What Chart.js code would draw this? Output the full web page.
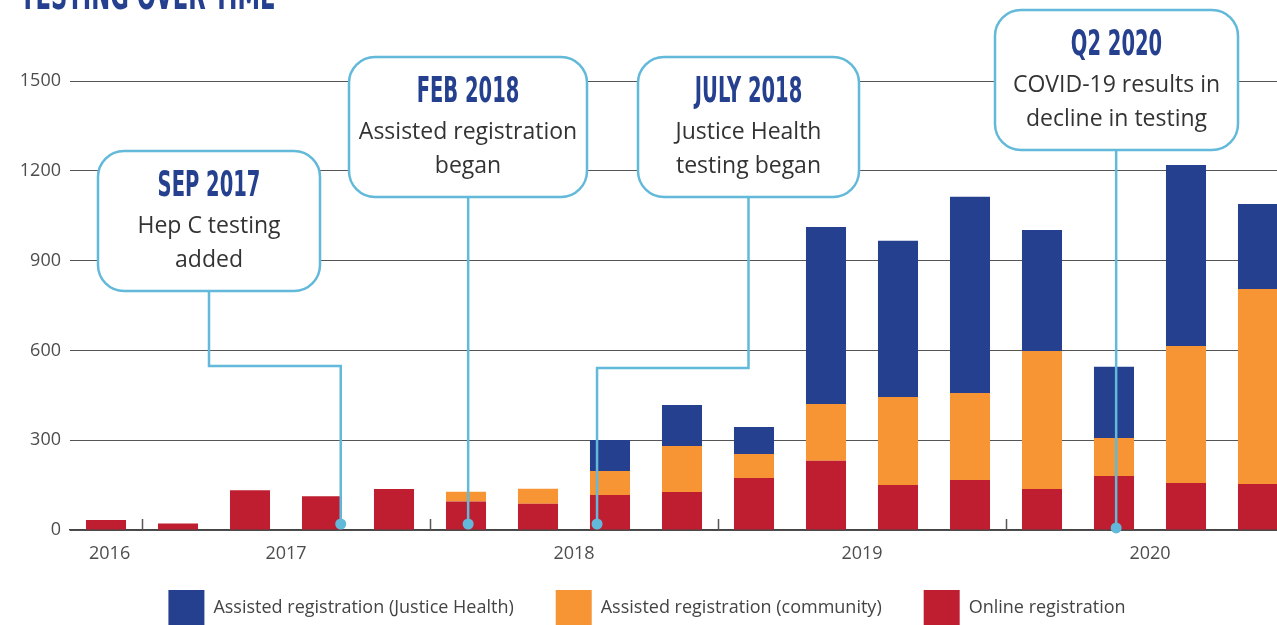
<!DOCTYPE html>
<html>
<head>
<meta charset="utf-8">
<script src="https://cdn.jsdelivr.net/npm/chart.js@4/dist/chart.umd.min.js"></script>
<style>
  html, body { margin: 0; padding: 0; background: #fff; overflow: hidden; }
  #testing { display: block; }
</style>
</head>
<body>
<canvas id="testing" width="1300" height="625"></canvas>
<script>
// Quarterly tests by registration type
const quarters = ['Q4 2016', 'Q1 2017', 'Q2 2017', 'Q3 2017', 'Q4 2017', 'Q1 2018', 'Q2 2018', 'Q3 2018', 'Q4 2018',
  'Q1 2019', 'Q2 2019', 'Q3 2019', 'Q4 2019', 'Q1 2020', 'Q2 2020', 'Q3 2020', 'Q4 2020'];
const online = [33, 22, 133, 113, 137, 95, 88, 117, 127, 174, 231, 150, 167, 137, 180, 157, 154];
const community = [0, 0, 0, 0, 0, 33, 50, 80, 154, 80, 190, 294, 291, 461, 127, 458, 651];
const justice = [0, 0, 0, 0, 0, 0, 0, 104, 137, 90, 591, 522, 655, 404, 238, 604, 284];

const yearLabels = ['2016', '2017', '2018', '2019', '2020'];
const yearCentres = [0.05, 2.5, 6.5, 10.5, 14.5];
const yearBreaks = [0.5, 4.5, 8.5, 12.5];

// Callouts
const noteHeads = ['SEP 2017', 'FEB 2018', 'JULY 2018', 'Q2 2020'];
const noteLines = [['Hep C testing', 'added'], ['Assisted registration', 'began'], ['Justice Health', 'testing began'], ['COVID-19 results in', 'decline in testing']];
const notePoints = [3.26, 5.03, 6.82, 14.03];
const noteBoxes = [
  { x: 98, y: 151, w: 222, elbow: 366 },
  { x: 349, y: 57, w: 238 },
  { x: 638, y: 57, w: 221, elbow: 368 },
  { x: 995, y: 10, w: 243 }
];

const NAVY = '#25408f', ORANGE = '#f79433', RED = '#be1e2f', BLUE = '#62b9da';
const FONT = '"Open Sans", sans-serif';

function condensed(ctx, text, x, y, size, squeeze, align) {
  ctx.save();
  ctx.font = 'bold ' + size + 'px "Liberation Sans Narrow", "DejaVu Sans Condensed", sans-serif';
  ctx.textAlign = align;
  ctx.translate(x, y);
  ctx.scale(squeeze, 1);
  ctx.fillText(text, 0, 0);
  ctx.restore();
}

const extras = {
  id: 'extras',
  beforeDraw(chart) {
    const ctx = chart.ctx;
    ctx.save();
    ctx.fillStyle = NAVY;
    ctx.textBaseline = 'alphabetic';
    condensed(ctx, 'TESTING OVER TIME', 20, 9, 40, 0.63, 'left');
    ctx.restore();
  },
  afterDatasetsDraw(chart) {
    const ctx = chart.ctx, xs = chart.scales.x, ys = chart.scales.y;
    ctx.save();
    // year labels and separators
    ctx.fillStyle = '#4d4d4d';
    ctx.font = '18px ' + FONT;
    ctx.textAlign = 'center';
    ctx.textBaseline = 'middle';
    yearLabels.forEach((t, i) => ctx.fillText(t, xs.getPixelForValue(yearCentres[i]), ys.bottom + 24));
    ctx.strokeStyle = '#555';
    ctx.lineWidth = 1.5;
    yearBreaks.forEach(b => {
      const px = Math.round(xs.getPixelForValue(b)) + 0.5;
      ctx.beginPath();
      ctx.moveTo(px, ys.bottom - 11);
      ctx.lineTo(px, ys.bottom);
      ctx.stroke();
    });
    // callouts
    noteBoxes.forEach((b, i) => {
      const px = xs.getPixelForValue(notePoints[i]);
      const py = ys.getPixelForValue(i === 3 ? 7 : 20);
      const cx = b.x + b.w / 2, h = 140;
      ctx.strokeStyle = BLUE;
      ctx.lineWidth = 2.5;
      ctx.beginPath();
      if (b.elbow) {
        ctx.moveTo(cx, b.y + h);
        ctx.lineTo(cx, b.elbow);
        ctx.lineTo(px, b.elbow);
      } else {
        ctx.moveTo(px, b.y + h);
      }
      ctx.lineTo(px, py);
      ctx.stroke();
      ctx.fillStyle = BLUE;
      ctx.beginPath();
      ctx.arc(px, py, 5.5, 0, Math.PI * 2);
      ctx.fill();

      ctx.fillStyle = '#fff';
      ctx.beginPath();
      ctx.roundRect(b.x, b.y, b.w, h, 26);
      ctx.fill();
      ctx.stroke();

      ctx.textBaseline = 'middle';
      ctx.fillStyle = NAVY;
      condensed(ctx, noteHeads[i], cx, b.y + 36, 35, 0.62, 'center');
      ctx.fillStyle = '#333';
      ctx.font = '23px ' + FONT;
      ctx.textAlign = 'center';
      noteLines[i].forEach((t, j) => ctx.fillText(t, cx, b.y + 75 + j * 34));
    });
    ctx.restore();
  }
};

new Chart(document.getElementById('testing'), {
  type: 'bar',
  data: {
    labels: quarters,
    datasets: [
      { label: 'Online registration', data: online, backgroundColor: RED },
      { label: 'Assisted registration (community)', data: community, backgroundColor: ORANGE },
      { label: 'Assisted registration (Justice Health)', data: justice, backgroundColor: NAVY }
    ]
  },
  options: {
    responsive: false,
    animation: false,
    layout: { padding: { top: 81, right: 6, left: 0, bottom: -10 } },
    datasets: { bar: { barPercentage: 0.556, categoryPercentage: 1, borderWidth: 0 } },
    plugins: {
      tooltip: { enabled: false },
      legend: {
        position: 'bottom',
        reverse: true,
        labels: {
          boxWidth: 36, boxHeight: 35, padding: 42,
          color: '#444',
          font: { family: FONT, size: 18 }
        }
      }
    },
    scales: {
      x: {
        stacked: true, offset: true,
        afterFit: s => { s.height = 18; },
        grid: { display: false, drawTicks: false },
        border: { display: true, color: '#444', width: 1.5 },
        ticks: { display: false }
      },
      y: {
        stacked: true, min: 0, max: 1500,
        afterFit: s => { s.width = 70; },
        grid: { color: '#555', drawTicks: false },
        border: { display: false },
        ticks: {
          stepSize: 300, padding: 9,
          color: '#4d4d4d', font: { family: FONT, size: 18 },
          callback: v => String(v)
        }
      }
    }
  },
  plugins: [extras]
});
</script>
</body>
</html>
